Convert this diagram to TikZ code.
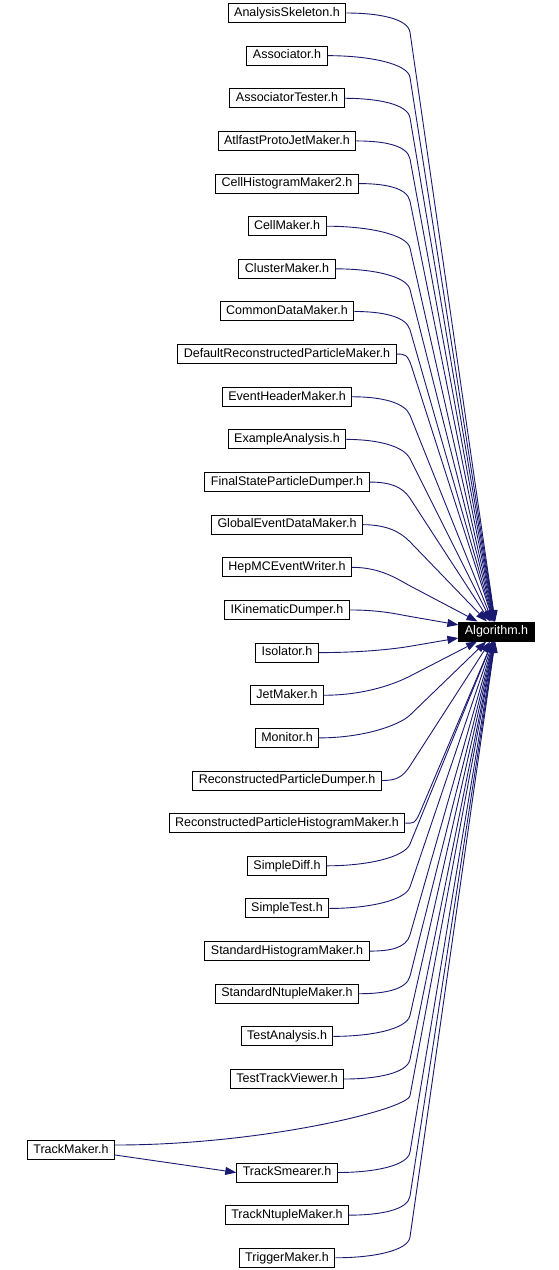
\documentclass[tikz,border=0pt]{standalone}
\usepackage{fontspec}
\setmainfont{Liberation Sans}
\usepackage{tikz}
\usetikzlibrary{positioning, calc, arrows.meta}
\definecolor{DoxNavy}{RGB}{25, 25, 112}

% one include edge into Algorithm.h: out to a bend near x=410, then straight in
\newcommand{\incl}[1]{%
  \draw [edge] let \p1=(#1), \p2=(alg.center), \n1={\y1-\y2},
      \n2={min(0.3*abs(\n1), 0.13*(410pt-\x1)+11pt)},
      \n3={\n1>0 ? \y1-\n2 : \y1+\n2}, \n4={max(410pt,\x1+15pt)} in
    (\p1) .. controls ({\x1+0.5*(\n4-\x1)},\y1) and ($(\n4,\n3)!-14pt!(alg.center)$) .. (\n4,\n3) -- (alg);}

\begin{document}
\begin{tikzpicture}[x=1pt, y=-1pt, node distance=22.64pt, font=\fontsize{12.5}{14}\selectfont]
    \tikzstyle{file} = [rectangle, draw=black, line width=1pt, inner xsep=6pt, inner ysep=0pt, minimum height=19pt, text height=9pt, text depth=2.5pt]
    \tikzstyle{main} = [file, fill=black, text=white]
    \tikzstyle{edge} = [line width=0.9pt, DoxNavy, -{Triangle[length=11pt, width=8pt]}]

    \useasboundingbox (0,0) rectangle (558,1270);

    \node [file] (askel) at (287,13) {AnalysisSkeleton.h};
    \node [file, below=of askel] (assoc) {Associator.h};
    \node [file, below=of assoc] (asstest) {AssociatorTester.h};
    \node [file, below=of asstest] (atlfast) {AtlfastProtoJetMaker.h};
    \node [file, below=of atlfast] (cellhist) {CellHistogramMaker2.h};
    \node [file, below=of cellhist] (cellmk) {CellMaker.h};
    \node [file, below=of cellmk] (cluster) {ClusterMaker.h};
    \node [file, below=of cluster] (common) {CommonDataMaker.h};
    \node [file, below=of common] (defrec) {DefaultReconstructedParticleMaker.h};
    \node [file, below=of defrec] (evthead) {EventHeaderMaker.h};
    \node [file, below=of evthead] (exana) {ExampleAnalysis.h};
    \node [file, below=of exana] (fsdump) {FinalStateParticleDumper.h};
    \node [file, below=of fsdump] (global) {GlobalEventDataMaker.h};
    \node [file, below=of global] (hepmc) {HepMCEventWriter.h};
    \node [file, below=of hepmc] (ikin) {IKinematicDumper.h};
    \node [file, below=of ikin] (isol) {Isolator.h};
    \node [file, below=of isol] (jet) {JetMaker.h};
    \node [file, below=of jet] (monitor) {Monitor.h};
    \node [file, below=of monitor] (recdump) {ReconstructedParticleDumper.h};
    \node [file, below=of recdump] (rechist) {ReconstructedParticleHistogramMaker.h};
    \node [file, below=of rechist] (sdiff) {SimpleDiff.h};
    \node [file, below=of sdiff] (stest) {SimpleTest.h};
    \node [file, below=of stest] (stdhist) {StandardHistogramMaker.h};
    \node [file, below=of stdhist] (stdntup) {StandardNtupleMaker.h};
    \node [file, below=of stdntup] (testana) {TestAnalysis.h};
    \node [file, below=of testana] (viewer) {TestTrackViewer.h};
    \node [file, below=73.5pt of viewer] (smear) {TrackSmearer.h};
    \node [file, below=of smear] (tntup) {TrackNtupleMaker.h};
    \node [file, below=of tntup] (trigger) {TriggerMaker.h};
    \node [file] (trackmk) at (71,1150) {TrackMaker.h};

    \node [main] (alg) at (496.5,631.5) {Algorithm.h};

    \incl{askel.east}
    \incl{assoc.east}
    \incl{asstest.east}
    \incl{atlfast.east}
    \incl{cellhist.east}
    \incl{cellmk.east}
    \incl{cluster.east}
    \incl{common.east}
    \incl{defrec.east}
    \incl{evthead.east}
    \incl{exana.east}
    \incl{fsdump.east}
    \incl{global.east}
    \incl{hepmc.east}
    \incl{ikin.east}
    \incl{isol.east}
    \incl{jet.east}
    \incl{monitor.east}
    \incl{recdump.east}
    \incl{rechist.east}
    \incl{sdiff.east}
    \incl{stest.east}
    \incl{stdhist.east}
    \incl{stdntup.east}
    \incl{testana.east}
    \incl{viewer.east}
    \incl{smear.east}
    \incl{tntup.east}
    \incl{trigger.east}
    \incl{[yshift=5pt]trackmk.east}

    \draw [edge] ([yshift=-5pt]trackmk.east) -- (smear.west);
  \end{tikzpicture}
\end{document}
